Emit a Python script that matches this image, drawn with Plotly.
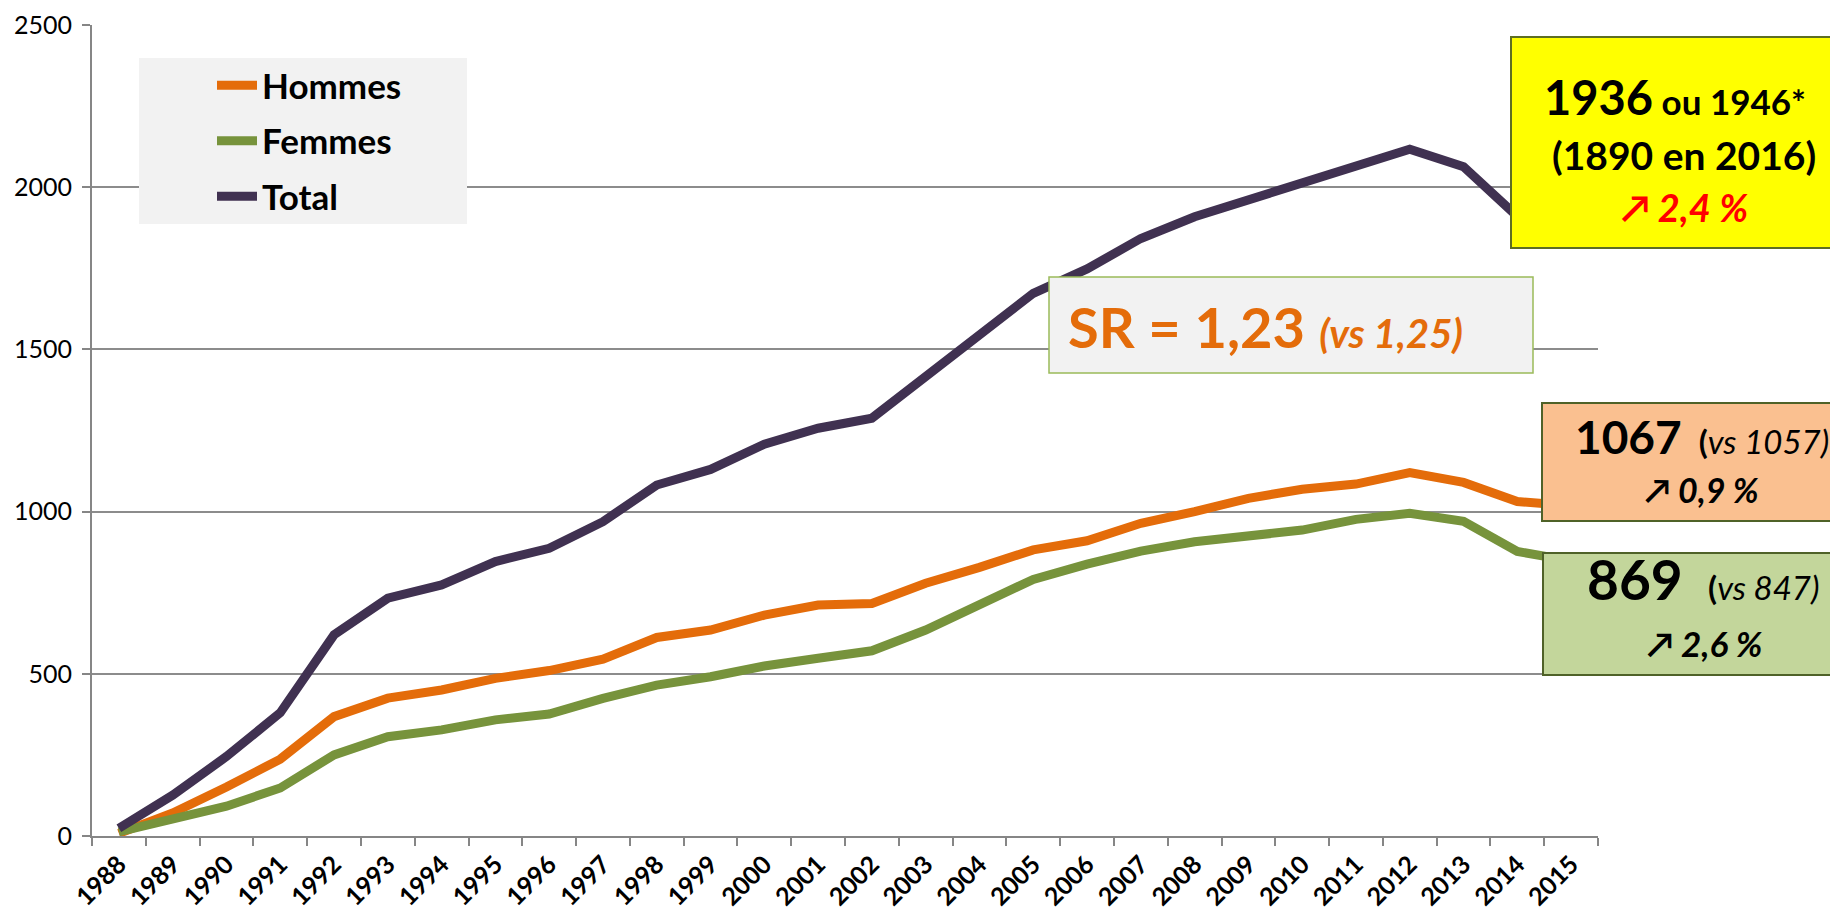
import plotly.graph_objects as go

# ---- data ----
years = [str(y) for y in range(1988, 2016)]
hommes = [8, 71, 151, 237, 368, 425, 450, 486, 510, 545, 612, 635, 681, 712,
          717, 779, 828, 882, 910, 964, 1000, 1041, 1069, 1085, 1120, 1090, 1031, 1018]
femmes = [13, 55, 92, 148, 250, 306, 327, 358, 376, 424, 465, 491, 524, 548,
          571, 635, 715, 791, 838, 878, 907, 923, 943, 976, 995, 970, 877, 848]
total = [24, 126, 245, 380, 620, 733, 774, 846, 887, 969, 1082, 1130, 1208, 1257,
         1288, 1414, 1540, 1673, 1748, 1842, 1909, 1961, 2012, 2063, 2117, 2063, 1910, 1866]

series_names = ["Hommes", "Femmes", "Total"]
series_colors = ["#E46C0A", "#77933C", "#403151"]
y_ticks = [0, 500, 1000, 1500, 2000, 2500]

# screen layout (page body has an 8px margin)
OFF = 8
SCREEN_W, SCREEN_H = 1838, 911
PLOT_L, PLOT_R, PLOT_T, PLOT_B = 92, 1598, 25, 836
W, H = SCREEN_W - OFF, SCREEN_H - OFF
PW, PH = PLOT_R - PLOT_L, PLOT_B - PLOT_T


def px(x):
    return (x - PLOT_L) / PW


def py(y):
    return (PLOT_B - y) / PH


FONT = "Lato, 'Open Sans', sans-serif"

fig = go.Figure()
for name, vals, col in zip(series_names, [hommes, femmes, total], series_colors):
    fig.add_trace(go.Scatter(
        x=years, y=vals, name=name, mode="lines",
        line=dict(color=col, width=9),
        legendgroup=name,
    ))

shapes = []
annotations = []

# legend background
shapes.append(dict(type="rect", xref="paper", yref="paper", layer="above",
                   x0=px(139), x1=px(467), y0=py(224), y1=py(58),
                   fillcolor="#F2F2F2", line=dict(width=0)))

# SR box
shapes.append(dict(type="rect", xref="paper", yref="paper", layer="above",
                   x0=px(1049), x1=px(1533), y0=py(373), y1=py(277),
                   fillcolor="#F2F2F2", line=dict(color="#9BBB59", width=1.5)))
annotations.append(dict(xref="paper", yref="paper", x=px(1066), y=py(326),
                        xanchor="left", yanchor="middle", showarrow=False,
                        text="<b>SR = 1,23</b> <b><i><span style='font-size:40px'>(vs 1,25)</span></i></b>",
                        font=dict(family=FONT, size=56, color="#E46C0A")))

# yellow box (Total)
shapes.append(dict(type="rect", xref="paper", yref="paper", layer="above",
                   x0=px(1511), x1=px(1836), y0=py(248), y1=py(37),
                   fillcolor="#FFFF00", line=dict(color="#5E6E22", width=2)))
annotations.append(dict(xref="paper", yref="paper", x=px(1675), y=py(97),
                        xanchor="center", yanchor="middle", showarrow=False,
                        text="<b>1936</b><b><span style='font-size:35px'> ou 1946*</span></b>",
                        font=dict(family=FONT, size=47, color="#000000")))
annotations.append(dict(xref="paper", yref="paper", x=px(1684), y=py(155),
                        xanchor="center", yanchor="middle", showarrow=False,
                        text="<b>(1890 en 2016)</b>",
                        font=dict(family=FONT, size=39, color="#000000")))
annotations.append(dict(xref="paper", yref="paper", x=px(1684), y=py(207),
                        xanchor="center", yanchor="middle", showarrow=False,
                        text="<b><i>↗ 2,4 %</i></b>",
                        font=dict(family=FONT, size=38, color="#FF0000")))

# orange box (Hommes)
shapes.append(dict(type="rect", xref="paper", yref="paper", layer="above",
                   x0=px(1542), x1=px(1836), y0=py(521), y1=py(403),
                   fillcolor="#FAC090", line=dict(color="#4F6228", width=2)))
annotations.append(dict(xref="paper", yref="paper", x=px(1702), y=py(436),
                        xanchor="center", yanchor="middle", showarrow=False,
                        text="<b>1067</b><span style='font-size:33px'>  <b>(</b><i>vs 1057)</i></span>",
                        font=dict(family=FONT, size=46, color="#000000")))
annotations.append(dict(xref="paper", yref="paper", x=px(1702), y=py(490),
                        xanchor="center", yanchor="middle", showarrow=False,
                        text="<b><i>↗ 0,9 %</i></b>",
                        font=dict(family=FONT, size=34, color="#000000")))

# green box (Femmes)
shapes.append(dict(type="rect", xref="paper", yref="paper", layer="above",
                   x0=px(1543), x1=px(1836), y0=py(675), y1=py(553),
                   fillcolor="#C3D69B", line=dict(color="#4F6228", width=2)))
annotations.append(dict(xref="paper", yref="paper", x=px(1703), y=py(579),
                        xanchor="center", yanchor="middle", showarrow=False,
                        text="<b>869</b><span style='font-size:33px'>   <b>(</b><i>vs 847)</i></span>",
                        font=dict(family=FONT, size=55, color="#000000")))
annotations.append(dict(xref="paper", yref="paper", x=px(1704), y=py(643),
                        xanchor="center", yanchor="middle", showarrow=False,
                        text="<b><i>↗ 2,6 %</i></b>",
                        font=dict(family=FONT, size=35, color="#000000")))

fig.update_layout(
    width=W, height=H,
    margin=dict(l=PLOT_L - OFF, r=SCREEN_W - PLOT_R, t=PLOT_T - OFF,
                b=SCREEN_H - PLOT_B, autoexpand=False),
    paper_bgcolor="white", plot_bgcolor="white",
    font=dict(family=FONT, color="#000000"),
    showlegend=True,
    legend=dict(x=px(212), y=py(56), xanchor="left", yanchor="top",
                bgcolor="rgba(0,0,0,0)", borderwidth=0,
                font=dict(family=FONT, size=35, color="#000000", weight="bold"),
                tracegroupgap=7, itemwidth=40, traceorder="grouped"),
    shapes=shapes,
    annotations=annotations,
    xaxis=dict(type="category", range=[-0.5, len(years) - 0.5],
               tickson="boundaries", ticks="outside", ticklen=8,
               tickcolor="#868686", tickwidth=2, showline=True, linecolor="#868686",
               linewidth=2, showgrid=False, tickangle=-45, ticklabelstandoff=2,
               ticklabelshift=0,
               tickfont=dict(family=FONT, size=25, color="#000000", weight="bold")),
    yaxis=dict(range=[0, 2500], tickvals=y_ticks, ticks="outside", ticklen=8,
               tickcolor="#868686", tickwidth=2, showline=True, linecolor="#868686",
               linewidth=2, showgrid=True, gridcolor="#8C8C8C", gridwidth=2,
               zeroline=False, ticklabelstandoff=5,
               tickfont=dict(family=FONT, size=25, color="#000000")),
)

fig.write_html("out.html")
